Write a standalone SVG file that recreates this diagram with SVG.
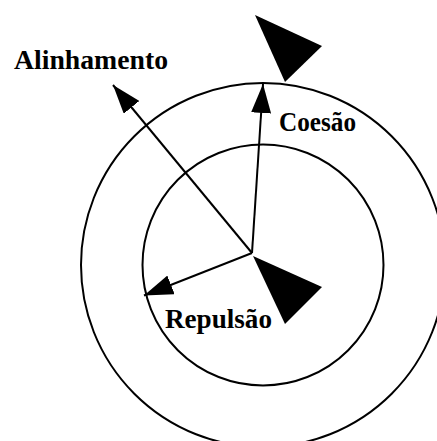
<svg xmlns="http://www.w3.org/2000/svg" width="437" height="441" viewBox="0 0 437 441">
<style>
.ring{fill:none;stroke:#000;stroke-width:2}
.vec{fill:none;stroke:#000;stroke-width:2}
.boid{fill:#000;stroke:none}
.lbl{font-family:"Liberation Serif","Times New Roman",serif;font-weight:bold;font-size:27px;fill:#000}
</style>
<defs>
<marker id="ah" viewBox="0 0 29 20" refX="29" refY="10" markerWidth="29" markerHeight="20" markerUnits="userSpaceOnUse" orient="auto">
<path d="M0,0 L29,10 L0,20 Z" fill="#000"/>
</marker>
</defs>
<rect width="437" height="441" fill="#fff"/>
<g id="outer-zone"><circle class="ring" cx="263" cy="265" r="182"/></g>
<g id="inner-zone"><circle class="ring" cx="263" cy="265" r="120.5"/></g>
<g id="connectors">
<line class="vec" x1="252" y1="253" x2="263" y2="84" marker-end="url(#ah)"/>
<line class="vec" x1="252" y1="253" x2="113" y2="85" marker-end="url(#ah)"/>
<line class="vec" x1="252" y1="253" x2="144" y2="295.5" marker-end="url(#ah)"/>
</g>
<g id="boid-neighbor"><polygon class="boid" points="255,15 322,46 285,82"/></g>
<g id="boid-center"><polygon class="boid" points="253,256 322,287 285,324"/></g>
<g id="label-alinhamento"><text class="lbl" x="14" y="69" textLength="154" lengthAdjust="spacingAndGlyphs">Alinhamento</text></g>
<g id="label-coesao"><text class="lbl" x="279" y="131" textLength="77" lengthAdjust="spacingAndGlyphs">Coesão</text></g>
<g id="label-repulsao"><text class="lbl" x="165" y="328" textLength="107" lengthAdjust="spacingAndGlyphs">Repulsão</text></g>
</svg>
